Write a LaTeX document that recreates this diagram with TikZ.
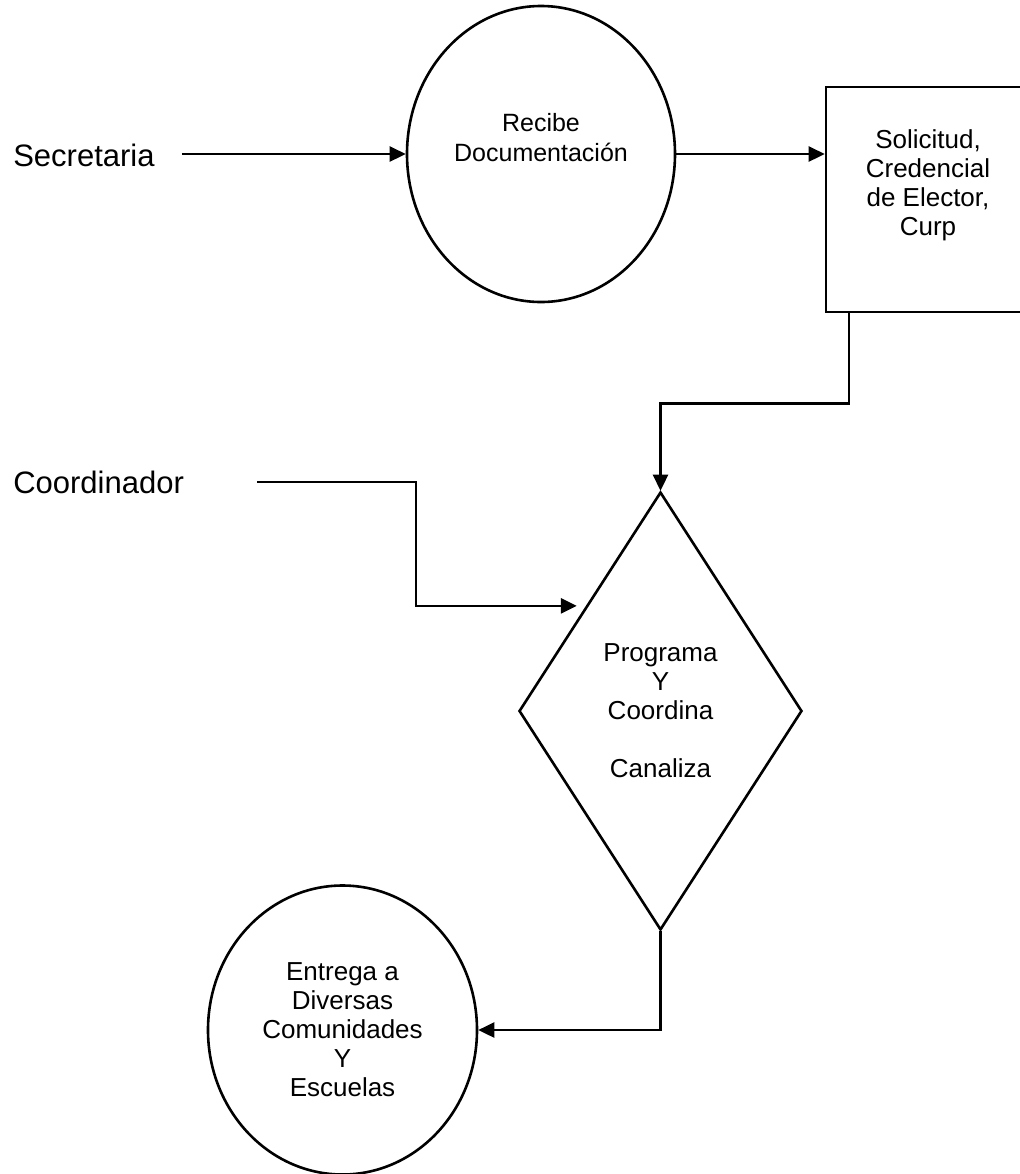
\documentclass[tikz,border=0pt]{standalone}
\usepackage{fontspec}
\setmainfont{Liberation Sans}
\usetikzlibrary{shapes.geometric,arrows.meta,calc}
\begin{document}
\begin{tikzpicture}[x=0.5pt,y=-0.5pt,
  line width=1.3pt,
  outline/.style={draw, line width=1.3pt, inner sep=0pt},
  oval/.style={outline, ellipse},
  decision/.style={outline, diamond},
  storebox/.style={outline, rectangle},
  body/.style={align=center, font=\fontsize{13}{14.5}\selectfont, inner sep=0pt},
  actor/.style={anchor=west, font=\fontsize{15.5}{18}\selectfont, inner sep=0pt},
  arr/.style={-{Triangle[length=8pt,width=7.5pt]}, line width=1.3pt},
]
% page frame
\useasboundingbox (0,0) rectangle (1020,1174);
\fill[white] (0,0) rectangle (1020,1174);
\clip (0,0) rectangle (1020,1174);

% actors
\node[actor] (sec) at (12,155) {Secretaria};
\node[actor] (coo) at (12,482) {Coordinador};

% process: receive documents
\node[oval, minimum width=134pt, minimum height=148pt] (rec) at (541,154) {};
\node[body, font=\fontsize{12.5}{15}\selectfont] (rect) at (541,138) {Recibe\\Documentación};

% document store (runs past the right edge)
\node[storebox, minimum width=103pt, minimum height=112.5pt] (doc) at (929,199.5) {};
\node[body] (doct) at (928,185) {Solicitud,\\Credencial\\de Elector,\\Curp};

% decision
\node[decision, body, minimum width=141.5pt, minimum height=219pt] (dia) at (660.5,711)
  {Programa\\Y\\Coordina\\[14.5pt]Canaliza};

% delivery
\node[oval, body, minimum width=134.5pt, minimum height=144.5pt] (ent) at (342.5,1030)
  {Entrega a\\Diversas\\Comunidades\\Y\\Escuelas};

% connectors
\draw[arr, shorten <=13pt] (sec.east |- rec.west) -- (rec.west);
\draw[arr] (rec.east) -- (rec.east -| doc.west);
\draw[arr] ([xshift=-40pt]doc.south) -- ++(0,90) -| (dia.north);

\coordinate (cin) at ($(dia.north)!0.5227!(dia.west)$);
\coordinate (cbend) at ($(cin)+(-170,0)$);
\draw[arr, shorten <=36pt, shorten >=4.5pt] (coo.east) -| (cbend) -- (cin);

\draw[arr] (dia.south) |- (ent.east);
\end{tikzpicture}
\end{document}
